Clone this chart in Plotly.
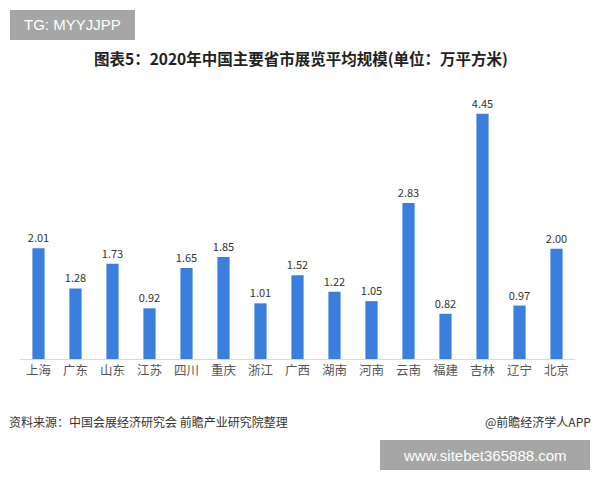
import plotly.graph_objects as go

categories = ["上海", "广东", "山东", "江苏", "四川", "重庆", "浙江", "广西", "湖南", "河南", "云南", "福建", "吉林", "辽宁", "北京"]
values = [2.01, 1.28, 1.73, 0.92, 1.65, 1.85, 1.01, 1.52, 1.22, 1.05, 2.83, 0.82, 4.45, 0.97, 2.00]
labels = [f"{v:.2f}" for v in values]

FONT = "Noto Sans CJK SC, Microsoft YaHei, sans-serif"

fig = go.Figure(go.Bar(
    x=categories, y=values, text=labels, textposition="outside",
    constraintext="none",
    textfont=dict(size=11, color="#333333", family=FONT),
    marker=dict(color="#3b7fde", line=dict(width=0)),
    width=0.33, cliponaxis=False,
))

W, H = 600, 480
l, r, t, b = 20, 25, 100, 121
pw, ph = W - l - r, H - t - b

def ann(text, x, y, anchor, size, color, family=FONT):
    return dict(text=text, x=(x - l) / pw, y=(H - b - y) / ph,
                xref="paper", yref="paper", xanchor=anchor, yanchor="middle",
                showarrow=False, font=dict(size=size, color=color, family=family))

def px_rect(x0, y0, x1, y1, color):
    return dict(type="rect", xref="paper", yref="paper", layer="below",
                x0=(x0 - l) / pw, x1=(x1 - l) / pw,
                y0=(H - b - y1) / ph, y1=(H - b - y0) / ph,
                fillcolor=color, line=dict(width=0))

fig.update_layout(
    width=W, height=H,
    margin=dict(l=l, r=r, t=t, b=b),
    paper_bgcolor="white", plot_bgcolor="white",
    showlegend=False,
    font=dict(family=FONT),
    xaxis=dict(showline=True, linecolor="#d9d9d9", linewidth=1, ticks="",
               tickfont=dict(size=12.5, color="#555555", family=FONT)),
    yaxis=dict(visible=False, range=[0, 4.70]),
    annotations=[
        ann("<b>图表5：2020年中国主要省市展览平均规模(单位：万平方米)</b>", 301, 58, "center", 15.5, "#222222"),
        ann("资料来源：中国会展经济研究会 前瞻产业研究院整理", 7, 421, "left", 12, "#333333"),
        ann("@前瞻经济学人APP", 593, 421, "right", 12, "#333333"),
        ann("TG: MYYJJPP", 72.5, 25, "center", 15, "white", "Liberation Sans, Arial"),
        ann("www.sitebet365888.com", 485, 455, "center", 15, "white", "Liberation Sans, Arial"),
    ],
    shapes=[
        px_rect(10, 10, 135, 40, "#a6a6a6"),
        px_rect(380, 440, 590, 470, "#a6a6a6"),
    ],
)

fig.write_html("out.html")
